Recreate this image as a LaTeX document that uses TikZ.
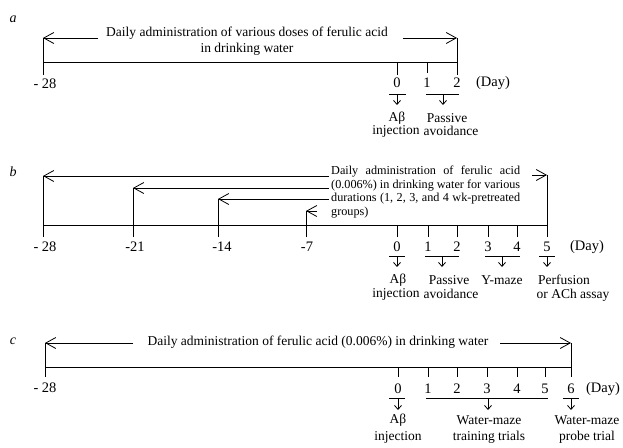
\documentclass[tikz,border=0pt]{standalone}
\usepackage{fontspec}
\setmainfont{Liberation Serif}
\usetikzlibrary{arrows.meta}
\begin{document}
\begin{tikzpicture}[x=1pt,y=-1pt,
  line/.style={line width=0.8pt},
  harr/.style={line width=0.8pt,-{Straight Barb[length=10pt,width=11pt,line width=0.8pt]}},
  darr/.style={line width=0.8pt,-{Straight Barb[length=4pt,width=7pt,line width=0.8pt]}},
  txt/.style={font=\fontsize{13.5}{16}\selectfont,inner sep=0pt},
  num/.style={font=\fontsize{14.5}{16}\selectfont,inner sep=0pt},
  blk/.style={font=\fontsize{12.2}{13.6}\selectfont,inner sep=0pt},
  panel/.style={font=\fontsize{14}{15}\selectfont\itshape,inner sep=0pt}]
\useasboundingbox (0,0) rectangle (623,447);

% ================= Panel a =================
\node[panel] (pa) at (13,19) {a};
\coordinate (aTL) at (43,38);
\coordinate (aBL) at (43,75);
\coordinate (aL) at (43,62);
\coordinate (aR) at (457,62);
\coordinate (aTR) at (457,38);
\coordinate (aBR) at (457,75);
\coordinate (aAl) at (98,38);
\coordinate (aAr) at (403,38);
\draw[line] (aTL) -- (aBL);
\draw[line] (aL) -- (aR);
\draw[line] (aTR) -- (aBR);
\draw[harr] (aAl) -- (aTL);
\draw[harr] (aAr) -- (aTR);
\node[txt,align=center] (atext) at (247,41) {Daily administration of various doses of ferulic acid\\in drinking water};
\coordinate (a0t) at (397,62); \coordinate (a0b) at (397,75);
\coordinate (a1t) at (427,62); \coordinate (a1b) at (427,73);
\draw[line] (a0t) -- (a0b);
\draw[line] (a1t) -- (a1b);
\node[num] (am28) at (45,84) {- 28};
\node[num] (ad0) at (397,83) {0};
\node[num] (ad1) at (427,83) {1};
\node[num] (ad2) at (457,83) {2};
\node[num] (aday) at (493,83) {(Day)};
\coordinate (au0l) at (389,94); \coordinate (au0r) at (406,94);
\coordinate (au1l) at (426,94); \coordinate (au1r) at (459,94);
\draw[line] (au0l) -- (au0r);
\draw[line] (au1l) -- (au1r);
\coordinate (aa0s) at (397,94); \coordinate (aa0e) at (397,105);
\coordinate (aa1s) at (443,94); \coordinate (aa1e) at (443,105);
\draw[darr] (aa0s) -- (aa0e);
\draw[darr] (aa1s) -- (aa1e);
\node[txt] (aab) at (397,118) {Aβ};
\node[txt] (ainj) at (396,131) {injection};
\node[txt] (apas) at (447,118) {Passive};
\node[txt] (aavo) at (451,131) {avoidance};

% ================= Panel b =================
\node[panel] (pb) at (13,172) {b};
\coordinate (bL) at (43,225);
\coordinate (bR) at (547,225);
\draw[line] (bL) -- (bR);
\coordinate (bv28t) at (43,176); \coordinate (bv28b) at (43,237);
\coordinate (bv21t) at (133,188); \coordinate (bv21b) at (133,237);
\coordinate (bv14t) at (218,199); \coordinate (bv14b) at (218,237);
\coordinate (bv7t) at (306,211); \coordinate (bv7b) at (306,237);
\draw[line] (bv28t) -- (bv28b);
\draw[line] (bv21t) -- (bv21b);
\draw[line] (bv14t) -- (bv14b);
\draw[line] (bv7t) -- (bv7b);
\coordinate (ba28) at (329,176);
\coordinate (ba21) at (329,188);
\coordinate (ba14) at (329,199);
\coordinate (ba7) at (317,211);
\draw[harr] (ba28) -- (bv28t);
\draw[harr] (ba21) -- (bv21t);
\draw[harr] (ba14) -- (bv14t);
\draw[harr] (ba7) -- (bv7t);
\coordinate (bvRt) at (547,175); \coordinate (bvRb) at (547,237);
\draw[line] (bvRt) -- (bvRb);
\coordinate (baR) at (532,175);
\draw[harr] (baR) -- (bvRt);
\node[blk,anchor=north west,align=left] (btext) at (331,166) {%
\makebox[189pt][s]{Daily administration of ferulic acid}\\
\makebox[189pt][s]{(0.006\%) in drinking water for various}\\
\makebox[189pt][s]{durations (1, 2, 3, and 4 wk-pretreated}\\
groups)};
\foreach \n/\x in {0/397,1/428,2/457,3/488,4/517}{
  \coordinate (bt\n t) at (\x,225); \coordinate (bt\n b) at (\x,237);
  \draw[line] (bt\n t) -- (bt\n b);
  \node[num] (bd\n) at (\x,247) {\n};
}
\node[num] (bd5) at (547,247) {5};
\node[num] (bm28) at (45,247) {- 28};
\node[num] (bm21) at (135,247) {-21};
\node[num] (bm14) at (222,247) {-14};
\node[num] (bm7) at (307,247) {-7};
\node[num] (bday) at (587,247) {(Day)};
\coordinate (bu0l) at (389,256); \coordinate (bu0r) at (405,256);
\coordinate (bu1l) at (425,256); \coordinate (bu1r) at (459,256);
\coordinate (bu3l) at (485,256); \coordinate (bu3r) at (520,256);
\coordinate (bu5l) at (539,256); \coordinate (bu5r) at (555,256);
\draw[line] (bu0l) -- (bu0r);
\draw[line] (bu1l) -- (bu1r);
\draw[line] (bu3l) -- (bu3r);
\draw[line] (bu5l) -- (bu5r);
\coordinate (bb0s) at (397,256); \coordinate (bb0e) at (397,267);
\coordinate (bb1s) at (442,256); \coordinate (bb1e) at (442,267);
\coordinate (bb3s) at (502,256); \coordinate (bb3e) at (502,267);
\coordinate (bb5s) at (547,256); \coordinate (bb5e) at (547,267);
\draw[darr] (bb0s) -- (bb0e);
\draw[darr] (bb1s) -- (bb1e);
\draw[darr] (bb3s) -- (bb3e);
\draw[darr] (bb5s) -- (bb5e);
\node[txt] (bab) at (398,280) {Aβ};
\node[txt] (binj) at (396,294) {injection};
\node[txt] (bpas) at (449,280) {Passive};
\node[txt] (bavo) at (451,294) {avoidance};
\node[txt] (bym) at (502,280) {Y-maze};
\node[txt] (bper) at (564,280) {Perfusion};
\node[txt] (bach) at (573,295) {or ACh assay};

% ================= Panel c =================
\node[panel] (pc) at (13,341) {c};
\coordinate (cTL) at (45,343);
\coordinate (cBL) at (45,377);
\coordinate (cL) at (45,367);
\coordinate (cR) at (571,367);
\coordinate (cTR) at (571,343);
\coordinate (cBR) at (571,377);
\draw[line] (cTL) -- (cBL);
\draw[line] (cL) -- (cR);
\draw[line] (cTR) -- (cBR);
\coordinate (cAl) at (133,343);
\coordinate (cAr) at (500,343);
\draw[harr] (cAl) -- (cTL);
\draw[harr] (cAr) -- (cTR);
\node[txt] (ctext) at (318,342) {Daily administration of ferulic acid (0.006\%) in drinking water};
\foreach \n/\x in {0/398,1/428,2/457,3/487,4/517,5/545}{
  \coordinate (ct\n t) at (\x,367); \coordinate (ct\n b) at (\x,377);
  \draw[line] (ct\n t) -- (ct\n b);
  \node[num] (cd\n) at (\x,389) {\n};
}
\node[num] (cd6) at (571,389) {6};
\node[num] (cm28) at (45,388) {- 28};
\node[num] (cday) at (603,389) {(Day)};
\coordinate (cu0l) at (389,398); \coordinate (cu0r) at (405,398);
\coordinate (cu1l) at (426,398); \coordinate (cu1r) at (548,398);
\coordinate (cu6l) at (563,398); \coordinate (cu6r) at (579,398);
\draw[line] (cu0l) -- (cu0r);
\draw[line] (cu1l) -- (cu1r);
\draw[line] (cu6l) -- (cu6r);
\coordinate (cc0s) at (398,398); \coordinate (cc0e) at (398,410);
\coordinate (cc1s) at (488,398); \coordinate (cc1e) at (488,410);
\coordinate (cc6s) at (571,398); \coordinate (cc6e) at (571,410);
\draw[darr] (cc0s) -- (cc0e);
\draw[darr] (cc1s) -- (cc1e);
\draw[darr] (cc6s) -- (cc6e);
\node[txt] (cab) at (398,420) {Aβ};
\node[txt] (cinj) at (398,437) {injection};
\node[txt] (cwm1) at (489,420) {Water-maze};
\node[txt] (ctr) at (489,437) {training trials};
\node[txt] (cwm2) at (587,420) {Water-maze};
\node[txt] (cpr) at (587,437) {probe trial};
\end{tikzpicture}
\end{document}
